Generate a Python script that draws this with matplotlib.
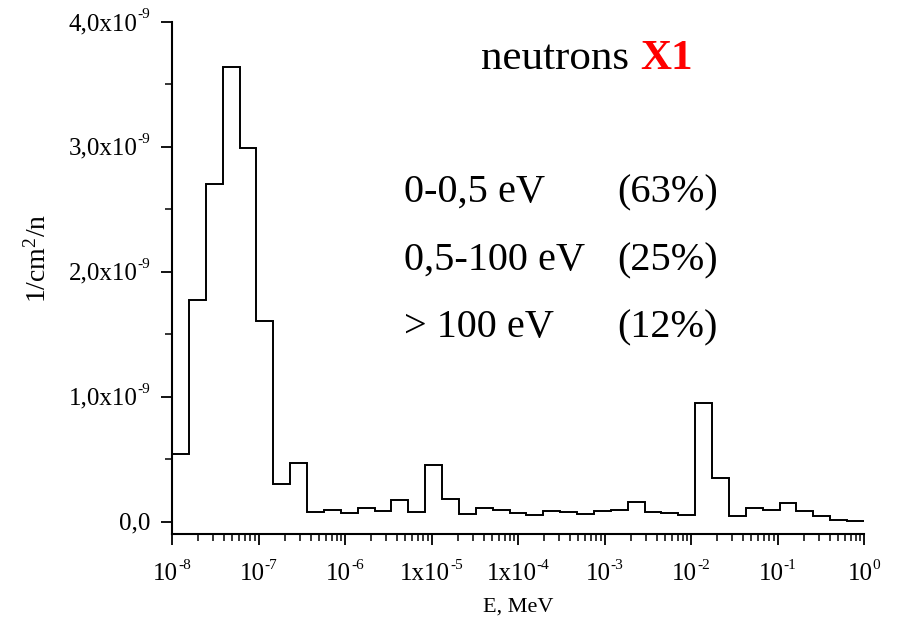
import numpy as np
import matplotlib
matplotlib.use("Agg")
import matplotlib.pyplot as plt
from matplotlib.ticker import FixedLocator, LogLocator, NullFormatter, MultipleLocator

plt.rcParams['font.family'] = ['Liberation Serif', 'DejaVu Serif']
plt.rcParams['mathtext.fontset'] = 'custom'
plt.rcParams['mathtext.rm'] = 'Liberation Serif'
plt.rcParams['mathtext.it'] = 'Liberation Serif:italic'
plt.rcParams['mathtext.bf'] = 'Liberation Serif:bold'

# Neutron flux per energy group (1/cm^2/n), in units of 1e-9
flux_e9 = [0.537, 1.777, 2.700, 3.640, 2.995, 1.605, 0.297, 0.470, 0.075, 0.090,
           0.070, 0.107, 0.082, 0.172, 0.077, 0.450, 0.178, 0.060, 0.109, 0.094,
           0.066, 0.055, 0.082, 0.074, 0.062, 0.081, 0.089, 0.159, 0.074, 0.066,
           0.054, 0.948, 0.352, 0.046, 0.105, 0.095, 0.145, 0.087, 0.041, 0.013,
           0.003]
flux = np.array(flux_e9) * 1e-9

# Group boundaries: equal-width groups in log energy between 1e-8 and 1 MeV
e_min_exp, e_max_exp = -8, 0
edges = np.logspace(e_min_exp, e_max_exp, len(flux) + 1)

# Tick labels as (mantissa part, exponent) pairs
x_tick_values = [1e-8, 1e-7, 1e-6, 1e-5, 1e-4, 1e-3, 1e-2, 1e-1, 1e0]
x_tick_bases = ['10', '10', '10', '1x10', '1x10', '10', '10', '10', '10']
x_tick_exps = ['-8', '-7', '-6', '-5', '-4', '-3', '-2', '-1', '0']
y_tick_values = [0.0, 1e-9, 2e-9, 3e-9, 4e-9]
y_tick_bases = ['0,0', '1,0x10', '2,0x10', '3,0x10', '4,0x10']
y_tick_exps = ['', '-9', '-9', '-9', '-9']

W, H = 897, 630
fig = plt.figure(figsize=(W / 100, H / 100), dpi=100)
ax = fig.add_axes([172 / W, 1 - 534 / H, (864 - 172) / W, (534 - 22) / H])

ax.stairs(flux, edges, color='black', linewidth=1.4, baseline=None)

ax.set_xscale('log')
ax.set_xlim(1e-8, 1e0)
ax.set_ylim(-0.1e-9, 4.0e-9)

ax.xaxis.set_major_locator(FixedLocator(x_tick_values))
ax.xaxis.set_minor_locator(LogLocator(base=10, subs=np.arange(2, 10), numticks=20))
ax.xaxis.set_minor_formatter(NullFormatter())
ax.yaxis.set_major_locator(FixedLocator(y_tick_values))
ax.yaxis.set_minor_locator(MultipleLocator(0.5e-9))

for s in ('top', 'right'):
    ax.spines[s].set_visible(False)
for s in ('left', 'bottom'):
    ax.spines[s].set_linewidth(1.5)

ax.tick_params(which='major', direction='out', length=8, width=1.3,
               labelbottom=False, labelleft=False)
ax.tick_params(which='minor', direction='out', length=5, width=1.1)

TICK_FS = 18
EXP_FS = 11

fig.canvas.draw()
renderer = fig.canvas.get_renderer()


def text_width(s, size):
    if not s:
        return 0.0
    t = fig.text(0, 0, s, fontsize=size)
    w = t.get_window_extent(renderer).width
    t.remove()
    return w


def put(px, py, s, size, **kw):
    # px, py in pixels measured from the top-left corner
    return fig.text(px / W, 1 - py / H, s, fontsize=size, va='baseline', ha='left', **kw)


# x tick labels: centred under each decade tick
for val, base, ex in zip(x_tick_values, x_tick_bases, x_tick_exps):
    xp = ax.transData.transform((val, 0))[0]
    wb, we = text_width(base, TICK_FS), text_width(ex, EXP_FS)
    left = xp - (wb + we) / 2
    put(left, 580, base, TICK_FS)
    put(left + wb, 569, ex, EXP_FS)

# y tick labels: right-aligned left of the axis
for val, base, ex in zip(y_tick_values, y_tick_bases, y_tick_exps):
    yp = H - ax.transData.transform((1e-8, val))[1]
    wb, we = text_width(base, TICK_FS), text_width(ex, EXP_FS)
    right = 150
    put(right - wb - we, yp + 8, base, TICK_FS)
    if ex:
        put(right - we, yp - 4, ex, EXP_FS)

fig.text(518 / W, 1 - 607 / H, 'E, MeV', fontsize=16, ha='center', va='center')
fig.text(38 / W, 1 - 258 / H, r'1/cm$^{2}$/n', fontsize=20, ha='center', va='center',
         rotation=90)

title = put(481, 69, 'neutrons ', 31)
fig.canvas.draw()
bb = title.get_window_extent(renderer)
put(bb.x1, 69, 'X1', 31, fontweight='bold', color='#ff0000')

ranges = ['0-0,5 eV', '0,5-100 eV', '> 100 eV']
shares = ['(63%)', '(25%)', '(12%)']
baselines = [202, 270, 337]
for r, s, yb in zip(ranges, shares, baselines):
    put(404, yb, r, 29)
    put(617, yb, s, 29)

fig.savefig('out.png', dpi=100, facecolor='white')
